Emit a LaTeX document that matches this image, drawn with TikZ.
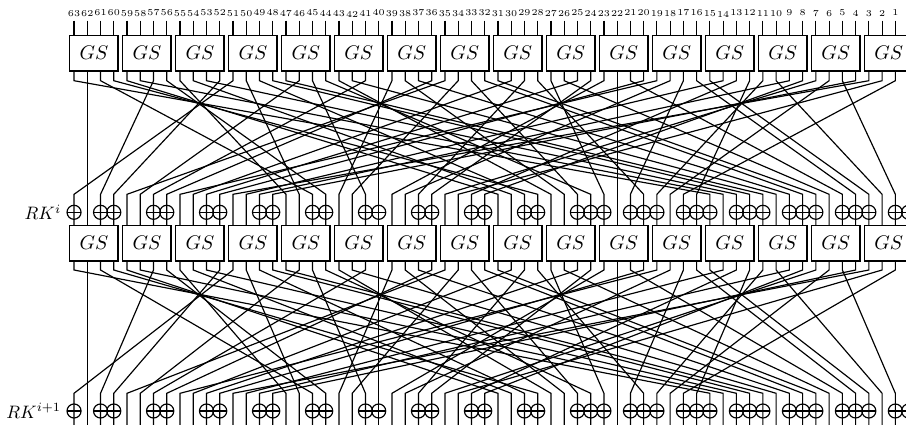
\documentclass[tikz,border=0pt]{standalone}
\usepackage{xcolor}
\usepackage{amsmath}
\usetikzlibrary{positioning}
\def\permtable{{0,17,34,51,48,1,18,35,32,49,2,19,16,33,50,3,4,21,38,55,52,5,22,39,36,53,6,23,20,37,54,7,8,25,42,59,56,9,26,43,40,57,10,27,24,41,58,11,12,29,46,63,60,13,30,47,44,61,14,31,28,45,62,15}}

\begin{document}
\begin{tikzpicture}[
    x=0.5556pt, y=-0.5556pt,
    gsbox/.style={draw, line width=0.8pt, minimum width=27pt, minimum height=19.7pt, inner sep=0pt, font=\fontsize{10.95}{13}\selectfont},
    xorgate/.style={draw, circle, line width=0.65pt, minimum size=7.8pt, inner sep=0pt,
        path picture={\draw[line width=0.65pt] (path picture bounding box.west) -- (path picture bounding box.east);}},
    wire/.style={line width=0.65pt},
    bitlabel/.style={font=\tiny, inner sep=0pt},
]
    \useasboundingbox (0, 0) rectangle (906, 425);
    \clip (0, 0) rectangle (906, 425);

    % Boxes
    \foreach \r/\ybox in {1/53.15, 2/243.2} {
        \foreach \g in {0,...,15} {
            \pgfmathsetmacro\xbox{908.6-13.247*(4*\g+1.5)}
            \node[gsbox] (gs\r-\g) at (\xbox, \ybox) {$GS$};
        }
    }

    % Bit labels
    \foreach \b in {1,...,63} {
        \pgfmathsetmacro\xbit{908.6-13.247*\b}
        \pgfmathtruncatemacro\rise{mod(\b,4)<2 ? 1 : 0}
        \node[bitlabel] (lab\b) at (\xbit, 14-\rise) {\b};
    }

    % Wire ends
    \foreach \b in {0,...,63} {
        \pgfmathsetmacro\xbit{908.6-13.247*\b}
        \coordinate (t1-\b) at (\xbit, 20.7);
        \coordinate (i1-\b) at (\xbit, 35.3);
        \coordinate (o1-\b) at (\xbit, 71);
        \coordinate (k1-\b) at (\xbit, 80.7);
        \coordinate (j2-\b) at (\xbit, 194.3);
        \coordinate (i2-\b) at (\xbit, 225.7);
        \coordinate (o2-\b) at (\xbit, 260.7);
        \coordinate (k2-\b) at (\xbit, 270);
        \coordinate (j3-\b) at (\xbit, 393.3);
        \coordinate (i3-\b) at (\xbit, 425);
        \draw[wire] (t1-\b) -- (i1-\b);
    }

    % Key additions
    \foreach \r/\yxor in {2/212.3, 3/411} {
        \foreach \b in {0,1,3,4,5,7,8,9,11,12,13,15,16,17,19,20,21,23,24,25,28,29,32,33,36,37,40,41,44,45,48,49,52,53,56,57,60,61,63} {
            \pgfmathsetmacro\xbit{908.6-13.247*\b}
            \node[xorgate] (x\r-\b) at (\xbit, \yxor) {};
        }
    }
    \node[inner sep=0pt, left=2.8pt of x2-63] (rk2) {$RK^{i}$};
    \node[inner sep=0pt, left=2.8pt of x3-63] (rk3) {$RK^{i+1}$};

    % Permutation
    \foreach \b in {0,...,63} {
        \pgfmathtruncatemacro\dest{\permtable[\b]}
        \draw[wire] (o1-\b) -- (k1-\b) -- (j2-\dest) -- (i2-\dest);
        \draw[wire] (o2-\b) -- (k2-\b) -- (j3-\dest) -- (i3-\dest);
    }
\end{tikzpicture}
\end{document}
